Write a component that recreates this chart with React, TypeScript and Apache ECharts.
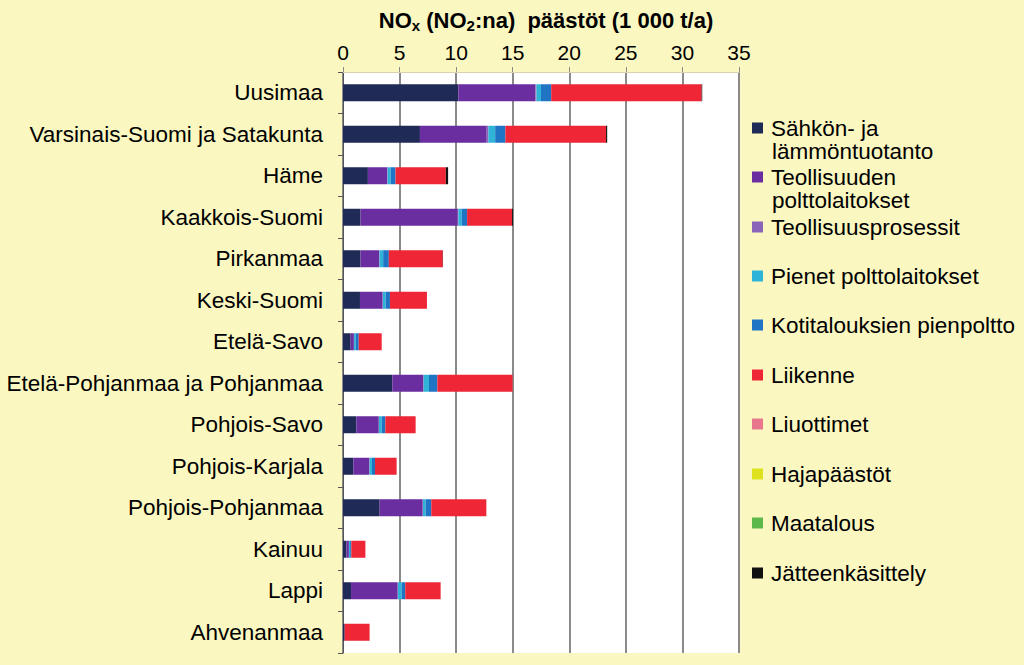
import React, { useEffect, useRef } from "react";
import * as echarts from "echarts";

const regions = [
  "Uusimaa",
  "Varsinais-Suomi ja Satakunta",
  "Häme",
  "Kaakkois-Suomi",
  "Pirkanmaa",
  "Keski-Suomi",
  "Etelä-Savo",
  "Etelä-Pohjanmaa ja Pohjanmaa",
  "Pohjois-Savo",
  "Pohjois-Karjala",
  "Pohjois-Pohjanmaa",
  "Kainuu",
  "Lappi",
  "Ahvenanmaa",
];

const sahko = [10.2, 6.8, 2.2, 1.55, 1.55, 1.5, 0.68, 4.36, 1.18, 0.91, 3.24, 0.3, 0.71, 0.15];
const teollisuudenPolttolaitokset = [6.8, 5.9, 1.7, 8.6, 1.65, 2.0, 0.28, 2.75, 1.98, 1.42, 3.8, 0.22, 4.12, 0];
const teollisuusprosessit = [0.1, 0.15, 0.05, 0.05, 0.03, 0.03, 0.01, 0.02, 0.02, 0.02, 0.03, 0.01, 0.03, 0];
const pienetPolttolaitokset = [0.4, 0.6, 0.27, 0.3, 0.32, 0.24, 0.15, 0.47, 0.24, 0.21, 0.23, 0.1, 0.32, 0];
const kotitaloudet = [0.9, 0.9, 0.42, 0.47, 0.5, 0.38, 0.27, 0.74, 0.32, 0.27, 0.5, 0.1, 0.32, 0];
const liikenne = [13.3, 8.9, 4.45, 3.97, 4.77, 3.27, 2.03, 6.65, 2.68, 1.91, 4.87, 1.25, 3.13, 2.2];
const liuottimet = [0, 0, 0, 0, 0, 0, 0, 0, 0, 0, 0, 0, 0, 0];
const hajapaastot = [0, 0, 0, 0, 0, 0, 0, 0, 0, 0, 0, 0, 0, 0];
const maatalous = [0, 0, 0, 0, 0, 0, 0, 0, 0, 0, 0, 0, 0, 0];
const jatteenkasittely = [0.05, 0.1, 0.2, 0.08, 0.02, 0, 0, 0, 0, 0, 0, 0, 0, 0];

const seriesNames = [
  "Sähkön- ja lämmöntuotanto",
  "Teollisuuden polttolaitokset",
  "Teollisuusprosessit",
  "Pienet polttolaitokset",
  "Kotitalouksien pienpoltto",
  "Liikenne",
  "Liuottimet",
  "Hajapäästöt",
  "Maatalous",
  "Jätteenkäsittely",
];
const seriesData = [
  sahko,
  teollisuudenPolttolaitokset,
  teollisuusprosessit,
  pienetPolttolaitokset,
  kotitaloudet,
  liikenne,
  liuottimet,
  hajapaastot,
  maatalous,
  jatteenkasittely,
];
const seriesColors = [
  "#1f2a56",
  "#6a2ea0",
  "#8a64b8",
  "#2fb4d8",
  "#1f74c4",
  "#ee2636",
  "#e8768c",
  "#dde21c",
  "#5cb84a",
  "#111111",
];
const legendFirstLine = [
  "Sähkön- ja",
  "Teollisuuden",
  "Teollisuusprosessit",
  "Pienet polttolaitokset",
  "Kotitalouksien pienpoltto",
  "Liikenne",
  "Liuottimet",
  "Hajapäästöt",
  "Maatalous",
  "Jätteenkäsittely",
];
const legendSecondLine = ["lämmöntuotanto", "polttolaitokset"];
const xTicks = { min: 0, max: 35, interval: 5 };

const FONT = "'Liberation Sans', Arial, sans-serif";

export default function App() {
  const ref = useRef<HTMLDivElement>(null);
  useEffect(() => {
    if (!ref.current) return;
    const chart = echarts.init(ref.current, null, { renderer: "svg" });
    const legendCenters = [128, 177, 227, 276, 325, 375, 424, 474, 523, 573];
    const option: any = {
      animation: false,
      backgroundColor: "#faf7c1",
      title: {
        text: "NO{sub|x} (NO{sub|2}:na)  päästöt (1 000 t/a)",
        left: 541,
        textAlign: "center",
        top: 3,
        textStyle: {
          fontFamily: FONT,
          fontSize: 22,
          fontWeight: "bold",
          color: "#000",
          rich: {
            sub: {
              fontFamily: FONT,
              fontSize: 15,
              fontWeight: "bold",
              color: "#000",
              padding: [10, 0, 0, 0],
            },
          },
        },
      },
      grid: {
        left: 343,
        top: 72,
        width: 396,
        height: 581,
        show: true,
        backgroundColor: "#ffffff",
        borderWidth: 0,
      },
      xAxis: {
        type: "value",
        position: "top",
        min: xTicks.min,
        max: xTicks.max,
        interval: xTicks.interval,
        axisLine: { show: true, lineStyle: { color: "#d6d4a8", width: 1 } },
        axisTick: { show: true, length: 5, lineStyle: { color: "#888", width: 1 } },
        axisLabel: { fontFamily: FONT, fontSize: 21, color: "#000", margin: 9 },
        splitLine: { show: true, lineStyle: { color: "#8a8a8a", width: 2 } },
      },
      yAxis: {
        type: "category",
        inverse: true,
        data: regions,
        axisLine: { show: true, lineStyle: { color: "#555", width: 1 } },
        axisTick: { show: true, length: 5, lineStyle: { color: "#555" } },
        axisLabel: { fontFamily: FONT, fontSize: 22.5, color: "#000", margin: 20 },
      },
      legend: seriesNames.map((name, i) => ({
        data: [name],
        left: 752,
        top: legendCenters[i] - 13,
        padding: 0,
        icon: "rect",
        itemWidth: 11,
        itemHeight: 11,
        selectedMode: false,
        formatter: () => legendFirstLine[i],
        textStyle: { fontFamily: FONT, fontSize: 22.5, color: "#000", lineHeight: 26, padding: [0, 0, 0, 3] },
      })),
      graphic: legendSecondLine.map((t, i) => ({
        type: "text",
        left: 772,
        top: legendCenters[i] + 12,
        style: { text: t, fontFamily: FONT, fontSize: 22.5, fill: "#000" },
      })),
      series: seriesNames.map((name, i) => ({
        name,
        type: "bar",
        stack: "total",
        barWidth: 17,
        data: seriesData[i],
        itemStyle: { color: seriesColors[i] },
      })),
    };
    chart.setOption(option);
    return () => chart.dispose();
  }, []);
  return (
    <div
      ref={ref}
      style={{ position: "fixed", left: 0, top: 0, width: 1024, height: 665 }}
    />
  );
}
